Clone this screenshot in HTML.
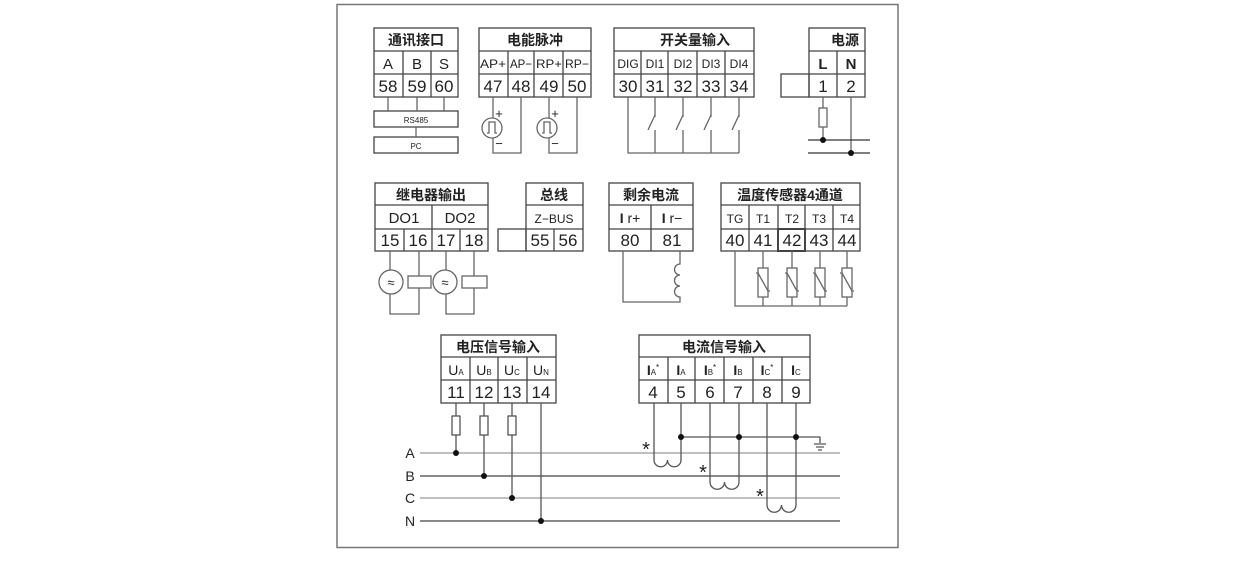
<!DOCTYPE html>
<html><head><meta charset="utf-8"><style>
html,body{margin:0;padding:0;background:#fff;}
svg{display:block;}
text{font-family:"Liberation Sans","Noto Sans CJK SC",sans-serif;fill:#222;}
.t{font-size:14px;font-weight:bold;}
.l{font-size:12px;}
.n{font-size:17px;}
</style></head><body>
<svg width="1252" height="563" viewBox="0 0 1252 563" xmlns="http://www.w3.org/2000/svg">
<rect x="337" y="4.5" width="561" height="543" fill="none" stroke="#777" stroke-width="1.5"/>
<g fill="none" stroke="#444" stroke-width="1.3">
<rect x="374" y="28" width="84" height="69"/>
<path d="M374 51H458M374 74H458M403 51V97M431 51V97"/>
<rect x="374" y="111" width="84" height="16"/>
<rect x="374" y="137" width="84" height="16"/>
<path d="M388 97V111M417 97V111M444 97V111M416 127V137" stroke="#666"/>
<rect x="479" y="28" width="112" height="69"/>
<path d="M479 51H591M479 74H591M508 51V97M534 51V97M563 51V97"/>
<g stroke="#666">
<circle cx="492" cy="128" r="10"/>
<path d="M487 133H489V122H495V133H497"/>
<path d="M493 97V118M493 138V153H521V97"/>
<circle cx="547" cy="128" r="10"/>
<path d="M542 133H544V122H550V133H552"/>
<path d="M549 97V118M549 138V153H577V97"/>
</g>
<rect x="614" y="28" width="140" height="69"/>
<path d="M614 51H754M614 74H754M641 51V97M668 51V97M697 51V97M725 51V97"/>
<g stroke="#666">
<path d="M628 97V153H739"/>
<path d="M655 97V117M655 130V153M655 115L648 130"/>
<path d="M683 97V117M683 130V153M683 115L676 130"/>
<path d="M711 97V117M711 130V153M711 115L704 130"/>
<path d="M739 97V117M739 130V153M739 115L732 130"/>
</g>
<rect x="809" y="28" width="56" height="69"/>
<path d="M809 51H865M809 74H865M837 51V97"/>
<rect x="781" y="74" width="28" height="23"/>
<g stroke="#666">
<path d="M823 97V108M823 127V140M851 97V153"/>
<rect x="819" y="108" width="8" height="19"/>
</g>
<path d="M808 140H870M808 153H870" stroke="#333"/>
<rect x="375" y="183" width="113" height="68"/>
<path d="M375 205H488M375 229H488M432 205V251M404 229V251M460 229V251"/>
<g stroke="#666">
<circle cx="391" cy="282" r="12"/>
<path d="M390 251V270M390 294V314H419V288M419 251V276"/>
<rect x="408" y="276" width="23" height="12"/>
<circle cx="445" cy="282" r="12"/>
<path d="M446 251V270M446 294V314H474V288M474 251V276"/>
<rect x="462" y="276" width="25" height="12"/>
</g>
<rect x="526" y="183" width="57" height="68"/>
<path d="M526 205H583M526 229H583M554 229V251"/>
<rect x="498" y="229" width="28" height="22"/>
<rect x="609" y="183" width="84" height="68"/>
<path d="M609 205H693M609 229H693M651 205V251"/>
<g stroke="#666">
<path d="M623 251V302H680V297 a5.5 5.5 0 0 1 0 -11 a5.5 5.5 0 0 1 0 -11 a5.5 5.5 0 0 1 0 -11 V251"/>
</g>
<rect x="721" y="183" width="139" height="68"/>
<path d="M721 205H860M721 229H860M749 205V251M778 205V251M805 205V251M833 205V251"/>
<rect x="778" y="229" width="27" height="22" stroke-width="2"/>
<g stroke="#666">
<path d="M735 251V306H847"/>
<path d="M763 251V268M763 297V306"/><rect x="758" y="268" width="10" height="29"/><path d="M756 273L758 273L768 291L770 291"/>
<path d="M792 251V268M792 297V306"/><rect x="787" y="268" width="10" height="29"/><path d="M785 273L787 273L797 291L799 291"/>
<path d="M820 251V268M820 297V306"/><rect x="815" y="268" width="10" height="29"/><path d="M813 273L815 273L825 291L827 291"/>
<path d="M847 251V268M847 297V306"/><rect x="842" y="268" width="10" height="29"/><path d="M840 273L842 273L852 291L854 291"/>
</g>
<rect x="441" y="335" width="115" height="68"/>
<path d="M441 357H556M441 380H556M470 357V403M498 357V403M527 357V403"/>
<path d="M420 453H840" stroke="#999"/>
<path d="M420 476H840" stroke="#444"/>
<path d="M420 498H840" stroke="#999"/>
<path d="M420 521H840" stroke="#444"/>
<g stroke="#555">
<path d="M456 403V416M456 435V453"/><rect x="452" y="416" width="8" height="19"/>
<path d="M484 403V416M484 435V476"/><rect x="480" y="416" width="8" height="19"/>
<path d="M512 403V416M512 435V498"/><rect x="508" y="416" width="8" height="19"/>
<path d="M541 403V521"/>
</g>
<rect x="639" y="335" width="171" height="68"/>
<path d="M639 357H810M639 380H810M668 357V403M695 357V403M724 357V403M753 357V403M782 357V403"/>
<g stroke="#555">
<path d="M654 403V460 a6.75 6.75 0 0 0 13.5 0 a6.75 6.75 0 0 0 13.5 0 V403"/>
<path d="M710 403V482 a7.25 7.25 0 0 0 14.5 0 a7.25 7.25 0 0 0 14.5 0 V403"/>
<path d="M767 403V505 a7.25 7.25 0 0 0 14.5 0 a7.25 7.25 0 0 0 14.5 0 V403"/>
<path d="M681 437H820V443M814 444H826M816 447H824M818 450H822"/>
</g>
</g>
<g fill="#111">
<circle cx="823" cy="140" r="3"/><circle cx="851" cy="153" r="3"/>
<circle cx="456" cy="453" r="3"/><circle cx="484" cy="476" r="3"/><circle cx="512" cy="498" r="3"/><circle cx="541" cy="521" r="3"/>
<circle cx="681" cy="437" r="3"/><circle cx="739" cy="437" r="3"/><circle cx="796" cy="437" r="3"/>
</g>
<g text-anchor="middle">
<text class="t" x="416" y="45">通讯接口</text>
<text x="388" y="69" style="font-size:15px">A</text><text x="417" y="69" style="font-size:15px">B</text><text x="444" y="69" style="font-size:15px">S</text>
<text class="n" x="388" y="92">58</text><text class="n" x="417" y="92">59</text><text class="n" x="444" y="92">60</text>
<text x="416" y="123" style="font-size:8px">RS485</text><text x="416" y="149" style="font-size:8px">PC</text>
<text class="t" x="535" y="45">电能脉冲</text>
<text class="l" x="493" y="68" textLength="26" lengthAdjust="spacingAndGlyphs">AP+</text>
<text class="l" x="521" y="68" textLength="22" lengthAdjust="spacingAndGlyphs">AP−</text>
<text class="l" x="549" y="68" textLength="26" lengthAdjust="spacingAndGlyphs">RP+</text>
<text class="l" x="577" y="68" textLength="24" lengthAdjust="spacingAndGlyphs">RP−</text>
<text class="n" x="493" y="92">47</text><text class="n" x="521" y="92">48</text><text class="n" x="549" y="92">49</text><text class="n" x="577" y="92">50</text>
<text x="499" y="118" style="font-size:13px">+</text><text x="499" y="148" style="font-size:13px">−</text>
<text x="555" y="118" style="font-size:13px">+</text><text x="555" y="148" style="font-size:13px">−</text>
<text class="t" x="695" y="45">开关量输入</text>
<text class="l" x="628" y="68">DIG</text><text class="l" x="655" y="68">DI1</text><text class="l" x="683" y="68">DI2</text><text class="l" x="711" y="68">DI3</text><text class="l" x="739" y="68">DI4</text>
<text class="n" x="628" y="92">30</text><text class="n" x="655" y="92">31</text><text class="n" x="683" y="92">32</text><text class="n" x="711" y="92">33</text><text class="n" x="739" y="92">34</text>
<text class="t" x="845" y="45">电源</text>
<text x="823" y="69" style="font-size:15px;font-weight:bold">L</text><text x="851" y="69" style="font-size:15px;font-weight:bold">N</text>
<text class="n" x="823" y="92">1</text><text class="n" x="851" y="92">2</text>
<text class="t" x="431" y="200">继电器输出</text>
<text x="404" y="223" style="font-size:15px">DO1</text><text x="460" y="223" style="font-size:15px">DO2</text>
<text class="n" x="390" y="246">15</text><text class="n" x="418" y="246">16</text><text class="n" x="446" y="246">17</text><text class="n" x="474" y="246">18</text>
<text x="391" y="287" style="font-size:13px">≈</text><text x="445" y="287" style="font-size:13px">≈</text>
<text class="t" x="554" y="200">总线</text>
<text class="l" x="554" y="223">Z−BUS</text>
<text class="n" x="540" y="246">55</text><text class="n" x="568" y="246">56</text>
<text class="t" x="651" y="200">剩余电流</text>
<text x="630" y="223" style="font-size:14px"><tspan font-weight="bold">I</tspan> r+</text><text x="672" y="223" style="font-size:14px"><tspan font-weight="bold">I</tspan> r−</text>
<text class="n" x="630" y="246">80</text><text class="n" x="672" y="246">81</text>
<text class="t" x="790" y="200">温度传感器4通道</text>
<text class="l" x="735" y="223">TG</text><text class="l" x="763" y="223">T1</text><text class="l" x="792" y="223">T2</text><text class="l" x="819" y="223">T3</text><text class="l" x="847" y="223">T4</text>
<text class="n" x="735" y="246">40</text><text class="n" x="763" y="246">41</text><text class="n" x="792" y="246">42</text><text class="n" x="819" y="246">43</text><text class="n" x="847" y="246">44</text>
<text class="t" x="498" y="352">电压信号输入</text>
<text x="456" y="375" style="font-size:14px">U<tspan style="font-size:8px">A</tspan></text>
<text x="484" y="375" style="font-size:14px">U<tspan style="font-size:8px">B</tspan></text>
<text x="512" y="375" style="font-size:14px">U<tspan style="font-size:8px">C</tspan></text>
<text x="541" y="375" style="font-size:14px">U<tspan style="font-size:8px">N</tspan></text>
<text class="n" x="456" y="398">11</text><text class="n" x="484" y="398">12</text><text class="n" x="512" y="398">13</text><text class="n" x="541" y="398">14</text>
<text class="t" x="724" y="352">电流信号输入</text>
<text x="653" y="375" style="font-size:14px"><tspan font-weight="bold">I</tspan><tspan style="font-size:8px">A</tspan><tspan style="font-size:8px" dy="-5">*</tspan></text>
<text x="681" y="375" style="font-size:14px"><tspan font-weight="bold">I</tspan><tspan style="font-size:8px">A</tspan></text>
<text x="710" y="375" style="font-size:14px"><tspan font-weight="bold">I</tspan><tspan style="font-size:8px">B</tspan><tspan style="font-size:8px" dy="-5">*</tspan></text>
<text x="738" y="375" style="font-size:14px"><tspan font-weight="bold">I</tspan><tspan style="font-size:8px">B</tspan></text>
<text x="767" y="375" style="font-size:14px"><tspan font-weight="bold">I</tspan><tspan style="font-size:8px">C</tspan><tspan style="font-size:8px" dy="-5">*</tspan></text>
<text x="796" y="375" style="font-size:14px"><tspan font-weight="bold">I</tspan><tspan style="font-size:8px">C</tspan></text>
<text class="n" x="653" y="398">4</text><text class="n" x="681" y="398">5</text><text class="n" x="710" y="398">6</text><text class="n" x="738" y="398">7</text><text class="n" x="767" y="398">8</text><text class="n" x="796" y="398">9</text>
<text x="646" y="456" style="font-size:20px">*</text><text x="703" y="479" style="font-size:20px">*</text><text x="760" y="503" style="font-size:20px">*</text>
<text x="410" y="458" style="font-size:14px">A</text><text x="410" y="481" style="font-size:14px">B</text><text x="410" y="503" style="font-size:14px">C</text><text x="410" y="526" style="font-size:14px">N</text>
</g>
</svg>
</body></html>
